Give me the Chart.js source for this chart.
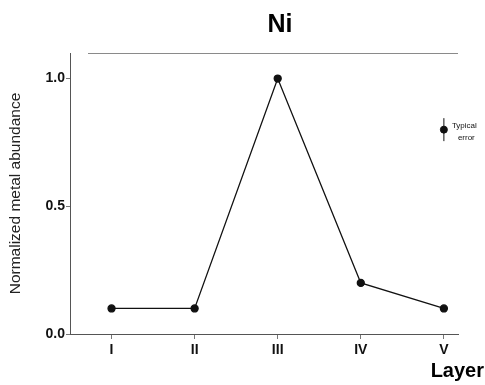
<!DOCTYPE html>
<html>
<head>
<meta charset="utf-8">
<script src="https://cdn.jsdelivr.net/npm/chart.js@4"></script>
<style>
  html, body { margin: 0; padding: 0; background: #fff; }
  #wrap { width: 485px; height: 385px; }
</style>
</head>
<body>
<div id="wrap"><canvas id="niChart" width="485" height="385"></canvas></div>
<script>
// data
const layers = ["I", "II", "III", "IV", "V"];
const niValues = [0.1, 0.1, 1.0, 0.2, 0.1];
const yTicks = [0, 0.5, 1.0];
const errPoint = [5, 0.8];      // "Typical error" marker (x position, value)
const errHalf = 0.045;

const FONT = "'Liberation Sans', Arial, sans-serif";

// extra drawing: title, top border, error bar, small labels
const extras = {
    id: "extras",
    afterDraw(chart) {
        const ctx = chart.ctx;
        const area = chart.chartArea;
        const x = chart.scales.x, y = chart.scales.y;
        ctx.save();

        // faint top border
        ctx.strokeStyle = "#8a8a8a";
        ctx.lineWidth = 1;
        ctx.beginPath();
        ctx.moveTo(area.left + 18, area.top + 0.5);
        ctx.lineTo(area.right, area.top + 0.5);
        ctx.stroke();

        // error bar
        const ex = x.getPixelForValue(errPoint[0]);
        ctx.strokeStyle = "#111";
        ctx.lineWidth = 1;
        ctx.beginPath();
        ctx.moveTo(ex, y.getPixelForValue(errPoint[1] + errHalf));
        ctx.lineTo(ex, y.getPixelForValue(errPoint[1] - errHalf));
        ctx.stroke();

        ctx.fillStyle = "#111";
        ctx.textBaseline = "middle";
        ctx.font = "8px " + FONT;
        ctx.textAlign = "left";
        const ey = y.getPixelForValue(errPoint[1]);
        ctx.fillText("Typical", ex + 8, ey - 4);
        ctx.fillText("error", ex + 14, ey + 8);

        // title
        ctx.font = "bold 25px " + FONT;
        ctx.textAlign = "center";
        ctx.fillStyle = "#000";
        ctx.fillText("Ni", 280, 25);

        // x axis title
        ctx.font = "bold 20px " + FONT;
        ctx.textAlign = "right";
        ctx.fillText("Layer", 484, 371);
        ctx.restore();
    }
};

new Chart(document.getElementById("niChart"), {
    type: "scatter",
    data: {
        datasets: [{
            data: niValues.map((v, i) => ({ x: i + 1, y: v })),
            showLine: true,
            borderColor: "#111",
            backgroundColor: "#111",
            borderWidth: 1.3,
            pointRadius: 3.5,
            pointHoverRadius: 3.5
        }, {
            data: [{ x: errPoint[0], y: errPoint[1] }],
            showLine: false,
            backgroundColor: "#111",
            borderColor: "#111",
            pointRadius: 3.5
        }]
    },
    options: {
        responsive: false,
        animation: false,
        layout: { padding: { top: 53, right: 27, left: 0, bottom: 0 } },
        plugins: {
            legend: { display: false },
            tooltip: { enabled: false }
        },
        scales: {
            x: {
                type: "linear",
                min: 0.5,
                max: 5.17,
                afterBuildTicks: axis => { axis.ticks = layers.map((l, i) => ({ value: i + 1 })); },
                afterFit: axis => { axis.height = 51; },
                ticks: {
                    callback: v => layers[v - 1] || "",
                    color: "#111",
                    font: { family: FONT, size: 14, weight: "bold" },
                    padding: 3
                },
                grid: { drawOnChartArea: false, tickLength: 5, color: "#777" },
                border: { color: "#555", width: 1 }
            },
            y: {
                min: 0,
                max: 1.1,
                afterBuildTicks: axis => { axis.ticks = yTicks.map(v => ({ value: v })); },
                afterFit: axis => { axis.width = 70; },
                ticks: {
                    callback: v => v.toFixed(1),
                    color: "#111",
                    font: { family: FONT, size: 14, weight: "bold" },
                    padding: 1
                },
                grid: { drawOnChartArea: false, tickLength: 4, color: "#777" },
                border: { color: "#555", width: 1 },
                title: {
                    display: true,
                    text: "Normalized metal abundance",
                    color: "#222",
                    font: { family: FONT, size: 15.5 },
                    padding: { top: 6, bottom: 0 }
                }
            }
        }
    },
    plugins: [extras]
});
</script>
</body>
</html>
